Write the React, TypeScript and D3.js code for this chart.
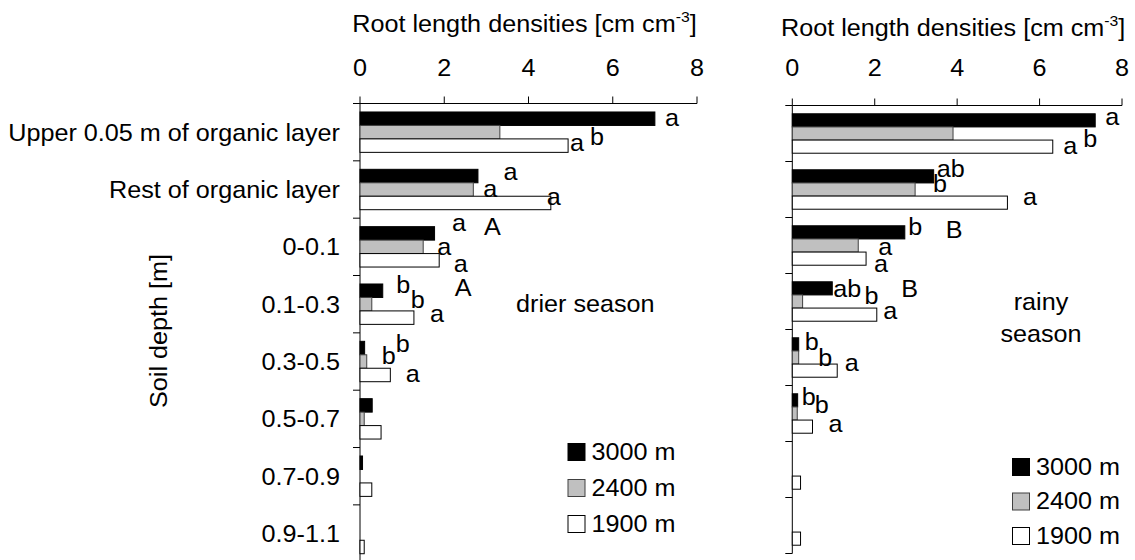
import React from "react";
import * as d3 from "d3";

// Soil depth layers (top to bottom)
const layers = [
  "Upper 0.05 m of organic layer",
  "Rest of organic layer",
  "0-0.1",
  "0.1-0.3",
  "0.3-0.5",
  "0.5-0.7",
  "0.7-0.9",
  "0.9-1.1",
];

// Altitudes (series)
const altitudes = ["3000 m", "2400 m", "1900 m"];

// Root length densities [cm cm-3], drier season
const drier3000 = [7.0, 2.8, 1.77, 0.54, 0.11, 0.29, 0.06, 0];
const drier2400 = [3.32, 2.69, 1.5, 0.28, 0.16, 0.1, 0, 0];
const drier1900 = [4.94, 4.53, 1.88, 1.28, 0.72, 0.5, 0.28, 0.1];

// Root length densities [cm cm-3], rainy season
const rainy3000 = [7.35, 3.43, 2.73, 0.97, 0.155, 0.13, 0, 0];
const rainy2400 = [3.9, 2.98, 1.6, 0.25, 0.155, 0.12, 0, 0];
const rainy1900 = [6.32, 5.22, 1.79, 2.05, 1.09, 0.49, 0.2, 0.2];

const xTicks = [0, 2, 4, 6, 8];

// Significance letters: layer index, series index, letter, nudge from the bar end
type Letter = { cat: number; ser: number; text: string; dx: number; dy: number };

const drierLetters: Letter[] = [
  { cat: 0, ser: 0, text: "a", dx: 10, dy: 7 },
  { cat: 0, ser: 2, text: "a", dx: 2, dy: 5 },
  { cat: 0, ser: 2, text: "b", dx: 22, dy: -1 },
  { cat: 1, ser: 0, text: "a", dx: 25.5, dy: 4 },
  { cat: 1, ser: 1, text: "a", dx: 10, dy: 7.5 },
  { cat: 1, ser: 2, text: "a", dx: -4, dy: 2 },
  { cat: 2, ser: 0, text: "a", dx: 17.5, dy: -2 },
  { cat: 2, ser: 0, text: "A", dx: 49.5, dy: 2 },
  { cat: 2, ser: 1, text: "a", dx: 14, dy: 8 },
  { cat: 2, ser: 2, text: "a", dx: 14.5, dy: 11.5 },
  { cat: 3, ser: 0, text: "b", dx: 13.5, dy: 2.5 },
  { cat: 3, ser: 0, text: "A", dx: 72, dy: 5 },
  { cat: 3, ser: 1, text: "b", dx: 39, dy: 4 },
  { cat: 3, ser: 2, text: "a", dx: 16, dy: 4 },
  { cat: 4, ser: 0, text: "b", dx: 31, dy: 3.5 },
  { cat: 4, ser: 1, text: "b", dx: 15, dy: 2 },
  { cat: 4, ser: 2, text: "a", dx: 15.5, dy: 7 },
];

const rainyLetters: Letter[] = [
  { cat: 0, ser: 0, text: "a", dx: 10, dy: 4.5 },
  { cat: 0, ser: 2, text: "a", dx: 10.5, dy: 7 },
  { cat: 0, ser: 2, text: "b", dx: 30.5, dy: 0 },
  { cat: 1, ser: 0, text: "ab", dx: 3, dy: 0.5 },
  { cat: 1, ser: 1, text: "b", dx: 18, dy: 2 },
  { cat: 1, ser: 2, text: "a", dx: 15.5, dy: 2.5 },
  { cat: 2, ser: 0, text: "b", dx: 3.5, dy: 2.5 },
  { cat: 2, ser: 0, text: "B", dx: 41, dy: 6 },
  { cat: 2, ser: 1, text: "a", dx: 20, dy: 9.5 },
  { cat: 2, ser: 2, text: "a", dx: 8, dy: 13 },
  { cat: 3, ser: 0, text: "ab", dx: 1, dy: 8.5 },
  { cat: 3, ser: 0, text: "B", dx: 69, dy: 8.5 },
  { cat: 3, ser: 1, text: "b", dx: 62, dy: 2 },
  { cat: 3, ser: 2, text: "a", dx: 6.5, dy: 4.5 },
  { cat: 4, ser: 0, text: "b", dx: 6, dy: 5.5 },
  { cat: 4, ser: 1, text: "b", dx: 19.5, dy: 8.5 },
  { cat: 4, ser: 2, text: "a", dx: 7.5, dy: 0 },
  { cat: 5, ser: 0, text: "b", dx: 4, dy: 4.5 },
  { cat: 5, ser: 1, text: "b", dx: 17.5, dy: -1 },
  { cat: 5, ser: 2, text: "a", dx: 16, dy: 5 },
];

const FONT = "'Liberation Sans', Arial, sans-serif";
const FS = 24;
const SX = 1.05; // glyphs are set slightly wide
const fills = ["#000000", "#c0c0c0", "#ffffff"];
const strokes = ["#000000", "#404040", "#000000"];

type TProps = {
  x: number;
  y: number;
  anchor?: "start" | "middle" | "end";
  children: React.ReactNode;
};

// Text placed at (x, y) with a slight horizontal stretch
function T({ x, y, anchor = "start", children }: TProps) {
  return (
    <text
      transform={`translate(${x},${y}) scale(${SX},1)`}
      textAnchor={anchor}
      fontFamily={FONT}
      fontSize={FS}
      fill="#000"
    >
      {children}
    </text>
  );
}

type PanelProps = {
  x0: number;
  x1: number;
  y0: number;
  y1: number;
  titleY: number;
  tickY: number;
  series: number[][];
  letters: Letter[];
  showCats: boolean;
  season: string[];
  seasonX: number;
  seasonY: number;
  legendX: number;
  legendY: number;
  legendStep: number;
};

function Panel(p: PanelProps) {
  const x = d3.scaleLinear().domain([0, 8]).range([p.x0, p.x1]);
  const y = d3.scaleBand<number>().domain(d3.range(layers.length)).range([p.y0, p.y1]).padding(0);
  const inner = d3
    .scaleBand<number>()
    .domain(d3.range(altitudes.length))
    .range([0, y.bandwidth()])
    .paddingInner(0)
    .paddingOuter(0.63);
  const bh = inner.bandwidth();
  const barCenter = (c: number, s: number) => (y(c) as number) + (inner(s) as number) + bh / 2;
  const boundaries = d3.range(layers.length + 1).map((i) => p.y0 + i * y.step());

  return (
    <g>
      {/* axis title */}
      <T x={(p.x0 + p.x1) / 2 - 4} y={p.titleY} anchor="middle">
        Root length densities [cm cm
        <tspan dy={-10} fontSize={15}>
          -3
        </tspan>
        <tspan dy={10}>]</tspan>
      </T>
      {/* top x axis */}
      {xTicks.map((t) => (
        <g key={t}>
          <line x1={x(t)} x2={x(t)} y1={p.y0} y2={p.y0 - 7} stroke="#000" strokeWidth={1} />
          <T x={x(t)} y={p.tickY} anchor="middle">
            {t}
          </T>
        </g>
      ))}
      <line x1={p.x0} x2={p.x1} y1={p.y0} y2={p.y0} stroke="#000" strokeWidth={1} />
      {/* y axis with layer boundary ticks */}
      <line x1={p.x0} x2={p.x0} y1={p.y0} y2={p.y1} stroke="#000" strokeWidth={1} />
      {boundaries.map((b, i) => (
        <line key={i} x1={p.x0 - 7} x2={p.x0} y1={b} y2={b} stroke="#000" strokeWidth={1} />
      ))}
      {/* bars */}
      {p.series.map((vals, s) =>
        vals.map((v, c) =>
          v > 0 ? (
            <rect
              key={`${s}-${c}`}
              x={x(0)}
              y={(y(c) as number) + (inner(s) as number)}
              width={x(v) - x(0)}
              height={bh}
              fill={fills[s]}
              stroke={strokes[s]}
              strokeWidth={1}
            />
          ) : null
        )
      )}
      {/* category labels */}
      {p.showCats &&
        layers.map((l, c) => (
          <T key={l} x={p.x0 - 20} y={(y(c) as number) + y.bandwidth() / 2 + 8.5} anchor="end">
            {l}
          </T>
        ))}
      {/* significance letters */}
      {p.letters.map((L, i) => (
        <T key={i} x={x(p.series[L.ser][L.cat]) + L.dx} y={barCenter(L.cat, L.ser) + L.dy}>
          {L.text}
        </T>
      ))}
      {/* season label */}
      {p.season.map((s, i) => (
        <T
          key={s}
          x={p.seasonX}
          y={p.seasonY + i * 32}
          anchor={p.season.length > 1 ? "middle" : "start"}
        >
          {s}
        </T>
      ))}
      {/* legend */}
      {altitudes.map((a, s) => (
        <g key={a}>
          <rect
            x={p.legendX}
            y={p.legendY + s * p.legendStep}
            width={17}
            height={17}
            fill={fills[s]}
            stroke={strokes[s]}
            strokeWidth={1}
          />
          <T x={p.legendX + 23.5} y={p.legendY + s * p.legendStep + 16}>
            {a}
          </T>
        </g>
      ))}
    </g>
  );
}

export default function App() {
  return (
    <svg
      width={1135}
      height={560}
      style={{ position: "absolute", left: 0, top: 0, background: "#fff" }}
    >
      <rect x={0} y={0} width={1135} height={560} fill="#fff" />
      <Panel
        x0={360}
        x1={697}
        y0={103.5}
        y1={562.2}
        titleY={32}
        tickY={76}
        series={[drier3000, drier2400, drier1900]}
        letters={drierLetters}
        showCats={true}
        season={["drier season"]}
        seasonX={516}
        seasonY={311.5}
        legendX={568}
        legendY={443.5}
        legendStep={36}
      />
      <Panel
        x0={792.3}
        x1={1122}
        y0={105.5}
        y1={553.5}
        titleY={36}
        tickY={76}
        series={[rainy3000, rainy2400, rainy1900]}
        letters={rainyLetters}
        showCats={false}
        season={["rainy", "season"]}
        seasonX={1041}
        seasonY={310}
        legendX={1012.5}
        legendY={458.5}
        legendStep={34.5}
      />
      <text
        transform="translate(167,331) rotate(-90) scale(1.05,1)"
        textAnchor="middle"
        fontFamily={FONT}
        fontSize={FS}
        fill="#000"
      >
        Soil depth [m]
      </text>
    </svg>
  );
}
